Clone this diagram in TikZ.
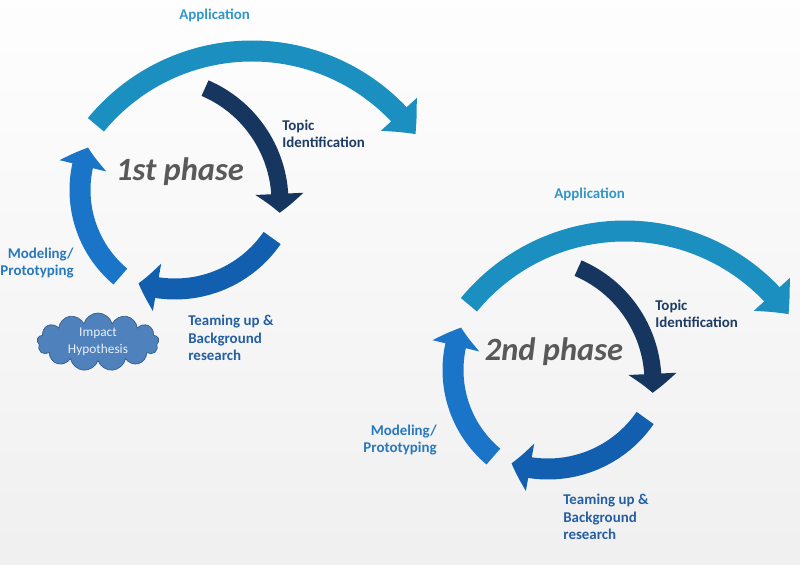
\documentclass[tikz,border=0pt]{standalone}
\usepackage{fontspec}
\setmainfont{Carlito}
\usepackage{tikz}
\usetikzlibrary{arrows.meta,bending,shapes.symbols}

\definecolor{appblue}{RGB}{28,143,193}
\definecolor{topicnavy}{RGB}{22,54,96}
\definecolor{teamblue}{RGB}{18,95,175}
\definecolor{modelblue}{RGB}{26,117,200}
\definecolor{applabel}{RGB}{50,150,200}
\definecolor{topiclabel}{RGB}{30,60,100}
\definecolor{teamlabel}{RGB}{35,95,165}
\definecolor{modellabel}{RGB}{40,120,190}
\definecolor{cloudfill}{RGB}{79,129,189}
\definecolor{cloudline}{RGB}{56,93,138}

\begin{document}
\begin{tikzpicture}[ x=0.02cm, y=0.02cm,
    band/.style={line width=0.42cm, -{Triangle[length=0.38cm, width=0.94cm, bend]}},
    thinband/.style={line width=0.34cm, -{Triangle[length=0.38cm, width=0.94cm, bend]}},
    steplabel/.style={inner sep=0, font=\fontsize{8.5}{10}\selectfont\bfseries, align=left},
    phasetext/.style={font=\fontsize{18.5}{22}\selectfont\bfseries\itshape, text=black!65} ]

    % Background
    \shade[top color=gray!1, bottom color=gray!12] (0,0) rectangle (800,564);
    \useasboundingbox (0,0) rectangle (800,564);

    % --- 1st phase ---
    \begin{scope}
      \draw[band, appblue, -{Triangle[length=0.52cm, width=0.94cm, bend]}] (252,311) ++(140.6:202) arc[start angle=140.6, end angle=36, radius=202];
      \draw[thinband, topicnavy] (156,362) ++(66.7:124) arc[start angle=66.7, end angle=-5, radius=124];
      \draw[band, teamblue] (175,393) ++(-34.6:118) arc[start angle=-34.6, end angle=-108, radius=118];
      \draw[band, modelblue] (193,374) ++(230:113) arc[start angle=230, end angle=158, radius=113];

      \node[phasetext] (phaseA) at (180,392) {1st phase};
      \node[steplabel, anchor=west, text=applabel] (appA) at (179,549) {Application};
      \node[steplabel, anchor=west, text=topiclabel] (topicA) at (282,430) {Topic\\Identification};
      \node[steplabel, anchor=east, align=right, text=modellabel] (modelA) at (74,301) {Modeling/\\Prototyping};
      \node[steplabel, anchor=west, text=teamlabel] (teamA) at (188,226) {Teaming up \&\\Background\\research};

      \node[cloud, cloud puffs=13, aspect=2.2, draw=cloudline, fill=cloudfill, minimum width=2.44cm, minimum height=1.16cm,
            text=white!88!cloudfill, align=center, inner sep=0, font=\fontsize{7.6}{9.5}\selectfont] (impact) at (98,222) {Impact\\Hypothesis};
    \end{scope}

    % --- 2nd phase ---
    \begin{scope}[shift={(373,-180)}]
      \draw[band, appblue, -{Triangle[length=0.52cm, width=0.94cm, bend]}] (252,311) ++(140.6:202) arc[start angle=140.6, end angle=36, radius=202];
      \draw[thinband, topicnavy] (156,362) ++(66.7:124) arc[start angle=66.7, end angle=-5, radius=124];
      \draw[band, teamblue] (175,393) ++(-34.6:118) arc[start angle=-34.6, end angle=-108, radius=118];
      \draw[band, modelblue] (193,374) ++(230:113) arc[start angle=230, end angle=158, radius=113];

      \node[phasetext] (phaseB) at (181,392) {2nd phase};
      \node[steplabel, anchor=west, text=applabel] (appB) at (181,550) {Application};
      \node[steplabel, anchor=west, text=topiclabel] (topicB) at (282,430) {Topic\\Identification};
      \node[steplabel, anchor=east, align=right, text=modellabel] (modelB) at (64,304) {Modeling/\\Prototyping};
      \node[steplabel, anchor=west, text=teamlabel] (teamB) at (190,227) {Teaming up \&\\Background\\research};
    \end{scope}
  \end{tikzpicture}
\end{document}
